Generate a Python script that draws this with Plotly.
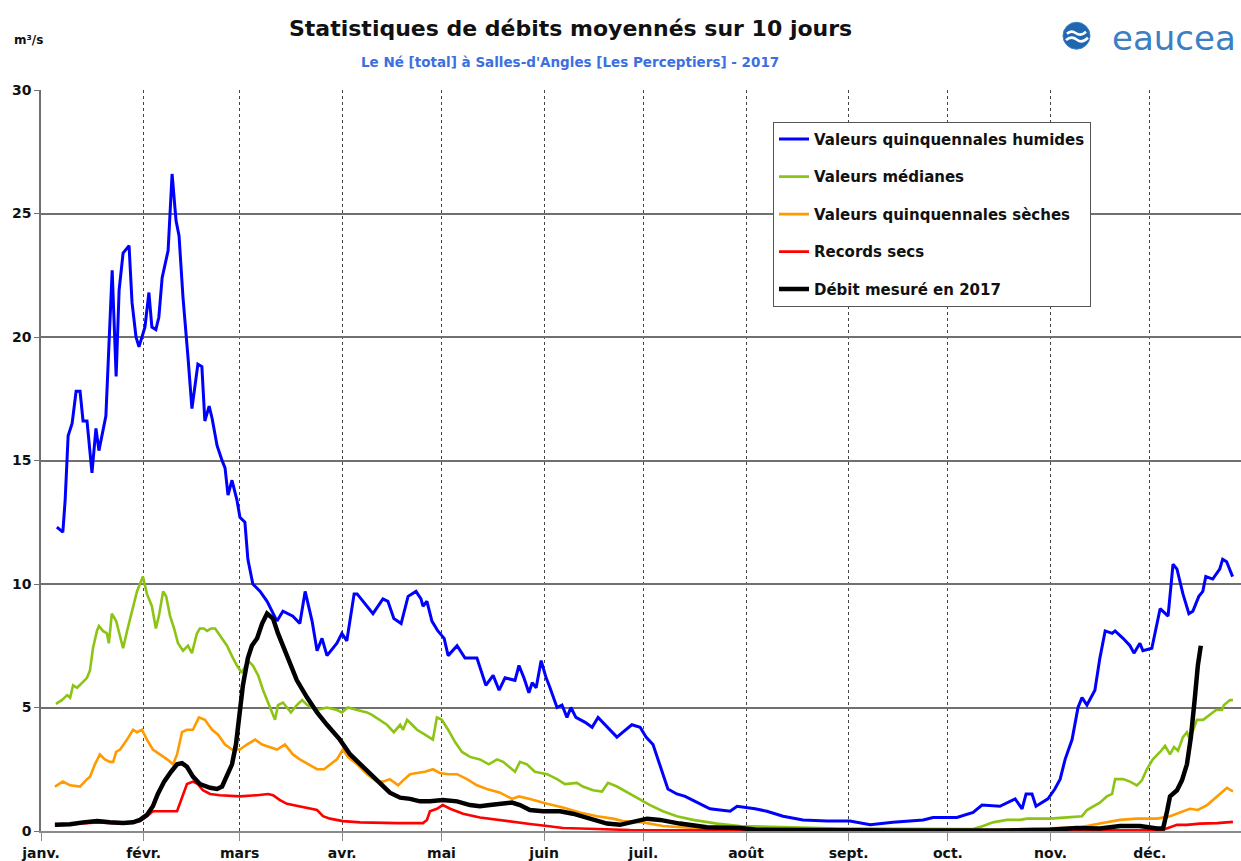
import plotly.graph_objects as go

# Month labels and first day of each month (day of year, 366-day calendar)
mois = ["janv.", "févr.", "mars", "avr.", "mai", "juin", "juil.", "août",
        "sept.", "oct.", "nov.", "déc."]
debut_mois = [0, 31, 60, 91, 121, 152, 182, 213, 244, 274, 305, 335]

# Valeurs quinquennales humides (m3/s)
jours_humides = [4.8, 6.6, 7.3, 8.2, 9.4, 10.6, 11.8, 12.7, 13.9, 15.4,
                 16.6, 17.5, 19.6, 21.5, 22.7, 23.6, 24.8, 26.6, 27.5, 28.7,
                 29.6, 31.4, 32.6, 33.5, 34.7, 35.6, 36.6, 38.4, 39.6, 40.8,
                 41.7, 42.9, 44.4, 45.6, 47.4, 48.6, 49.5, 50.8, 51.7, 53.2,
                 54.7, 55.6, 56.5, 57.7, 59.2, 60.1, 61.6, 62.5, 64.0, 66.2,
                 68.3, 70.1, 71.3, 73.1, 76.1, 78.2, 79.8, 81.9, 83.4, 84.9,
                 86.4, 89.4, 90.9, 92.4, 94.6, 95.5, 97.3, 100.3, 103.3, 104.8,
                 106.6, 108.8, 110.9, 113.3, 114.8, 115.4, 116.6, 118.1, 119.9, 121.8,
                 123.0, 125.7, 128.1, 131.7, 134.4, 136.6, 138.4, 140.2, 143.2, 144.4,
                 145.9, 147.4, 148.4, 149.6, 151.1, 152.6, 153.5, 155.9, 157.4, 158.9,
                 160.1, 161.6, 164.4, 166.5, 168.3, 171.0, 174.0, 175.8, 178.5, 181.0,
                 182.8, 184.9, 187.0, 189.4, 192.1, 194.6, 197.6, 202.1, 208.2, 210.3,
                 215.7, 219.3, 224.2, 230.2, 237.5, 244.4, 250.5, 257.4, 266.5, 269.5,
                 276.7, 281.6, 284.3, 289.7, 294.3, 296.4, 297.6, 299.4, 300.6, 304.2,
                 306.3, 307.9, 309.4, 311.5, 313.3, 314.5, 316.0, 318.4, 319.9, 321.5,
                 323.6, 324.5, 326.9, 329.0, 330.2, 332.0, 332.9, 335.6, 338.1, 340.5,
                 342.0, 343.2, 345.0, 346.8, 348.0, 349.8, 351.0, 351.9, 354.0, 356.1,
                 357.0, 358.2, 360.0]
debits_humides = [12.3, 12.1, 13.4, 16.0, 16.5, 17.8, 17.8, 16.6, 16.6, 14.5,
                  16.3, 15.4, 16.8, 22.7, 18.4, 21.9, 23.4, 23.7, 21.4, 20.0,
                  19.6, 20.4, 21.8, 20.4, 20.3, 20.8, 22.4, 23.5, 26.6, 24.7,
                  24.1, 21.6, 19.2, 17.1, 18.9, 18.8, 16.6, 17.2, 16.7, 15.6,
                  15.0, 14.7, 13.6, 14.2, 13.4, 12.7, 12.5, 11.0, 10.0, 9.7,
                  9.3, 8.8, 8.5, 8.9, 8.7, 8.4, 9.7, 8.5, 7.3, 7.8,
                  7.1, 7.6, 8.0, 7.7, 9.6, 9.6, 9.3, 8.8, 9.4, 9.3,
                  8.6, 8.4, 9.5, 9.7, 9.4, 9.1, 9.3, 8.5, 8.1, 7.8,
                  7.1, 7.5, 7.0, 7.0, 5.9, 6.3, 5.7, 6.2, 6.1, 6.7,
                  6.2, 5.6, 6.0, 5.8, 6.9, 6.2, 5.9, 5.0, 5.1, 4.6,
                  5.0, 4.6, 4.4, 4.2, 4.6, 4.2, 3.8, 4.0, 4.3, 4.2,
                  3.8, 3.5, 2.7, 1.7, 1.5, 1.4, 1.2, 0.9, 0.8, 1.0,
                  0.9, 0.8, 0.6, 0.45, 0.4, 0.4, 0.25, 0.35, 0.45, 0.55,
                  0.55, 0.75, 1.05, 1.0, 1.3, 0.9, 1.5, 1.5, 1.0, 1.3,
                  1.7, 2.1, 2.9, 3.7, 5.0, 5.4, 5.1, 5.7, 7.0, 8.1,
                  8.0, 8.1, 7.8, 7.5, 7.2, 7.6, 7.3, 7.4, 9.0, 8.7,
                  10.8, 10.6, 9.6, 8.8, 8.9, 9.5, 9.7, 10.3, 10.2, 10.6,
                  11.0, 10.9, 10.3]

# Valeurs médianes (m3/s)
jours_medianes = [4.5, 6.3, 7.9, 8.8, 9.7, 10.9, 12.4, 13.9, 14.8, 15.7,
                  16.9, 17.5, 18.7, 19.9, 20.5, 21.4, 22.7, 23.9, 24.8, 26.0,
                  27.5, 29.0, 30.8, 32.0, 33.5, 34.7, 35.6, 36.9, 37.8, 39.0,
                  40.2, 41.4, 42.9, 44.4, 45.6, 47.1, 48.0, 49.2, 50.2, 51.4,
                  52.6, 54.1, 56.2, 58.0, 59.2, 60.7, 62.5, 64.0, 65.6, 67.1,
                  68.6, 70.7, 71.6, 73.1, 74.3, 75.5, 77.3, 78.9, 80.4, 83.4,
                  86.4, 89.4, 90.9, 92.7, 95.5, 98.5, 100.0, 102.4, 104.5, 106.6,
                  108.5, 109.4, 110.6, 112.1, 113.6, 116.0, 118.4, 119.6, 121.1, 123.0,
                  125.1, 127.2, 129.6, 132.6, 135.3, 137.8, 139.6, 143.2, 144.7, 146.8,
                  149.2, 152.9, 155.9, 158.3, 161.9, 163.7, 166.8, 169.5, 171.3, 174.0,
                  177.9, 181.6, 184.0, 187.9, 192.1, 197.0, 204.2, 211.2, 221.1, 231.4,
                  241.4, 251.4, 271.6, 281.6, 284.6, 287.6, 291.8, 295.8, 297.9, 301.8,
                  304.8, 310.0, 314.5, 316.0, 317.8, 319.9, 322.0, 323.6, 324.5, 326.9,
                  329.0, 331.1, 332.6, 334.1, 335.9, 338.1, 339.6, 341.1, 342.3, 343.5,
                  345.0, 346.2, 347.1, 349.2, 351.1, 353.2, 355.0, 356.8, 357.4, 359.2,
                  360.1]
debits_medianes = [5.15, 5.3, 5.5, 5.4, 5.9, 5.8, 6.0, 6.2, 6.5, 7.4,
                   8.1, 8.3, 8.1, 8.0, 7.6, 8.8, 8.5, 7.9, 7.4, 8.1,
                   8.9, 9.7, 10.3, 9.6, 9.1, 8.2, 8.7, 9.7, 9.5, 8.7,
                   8.2, 7.6, 7.3, 7.5, 7.2, 8.0, 8.2, 8.2, 8.1, 8.2,
                   8.2, 7.9, 7.5, 7.0, 6.7, 6.4, 6.9, 6.7, 6.3, 5.7,
                   5.2, 4.5, 5.1, 5.2, 5.0, 4.8, 5.1, 5.3, 5.1, 4.9,
                   5.0, 4.9, 4.8, 5.0, 4.9, 4.8, 4.7, 4.5, 4.3, 4.0,
                   4.3, 4.1, 4.5, 4.3, 4.1, 3.9, 3.7, 4.6, 4.5, 4.1,
                   3.6, 3.2, 3.0, 2.9, 2.7, 2.9, 2.8, 2.4, 2.8, 2.7,
                   2.4, 2.3, 2.1, 1.9, 1.95, 1.8, 1.65, 1.6, 1.95, 1.8,
                   1.5, 1.25, 1.05, 0.8, 0.6, 0.45, 0.3, 0.2, 0.17, 0.13,
                   0.1, 0.1, 0.08, 0.08, 0.2, 0.35, 0.45, 0.45, 0.5, 0.5,
                   0.5, 0.55, 0.6, 0.85, 1.0, 1.15, 1.4, 1.5, 2.1, 2.1,
                   2.0, 1.85, 2.05, 2.5, 2.9, 3.2, 3.45, 3.1, 3.4, 3.25,
                   3.8, 4.0, 3.7, 4.5, 4.5, 4.7, 4.9, 4.9, 5.1, 5.3,
                   5.3]

# Valeurs quinquennales sèches (m3/s)
jours_seches = [4.2, 6.6, 8.8, 11.8, 13.9, 14.8, 16.3, 17.8, 19.3, 20.8,
                21.8, 22.7, 23.9, 26.0, 27.8, 29.0, 30.5, 32.0, 33.8, 36.0,
                38.1, 39.9, 41.1, 42.6, 44.1, 45.9, 47.7, 49.5, 51.7, 53.5,
                55.6, 57.7, 60.1, 62.2, 64.7, 66.8, 69.2, 71.3, 73.7, 76.1,
                78.2, 80.7, 83.4, 85.5, 87.3, 89.4, 91.2, 92.7, 95.5, 98.5,
                101.5, 103.3, 105.4, 107.9, 109.4, 111.5, 113.6, 116.0, 118.4, 120.5,
                123.0, 125.7, 128.7, 131.7, 134.7, 138.7, 142.3, 144.4, 147.7, 152.9,
                157.7, 162.8, 168.0, 172.8, 175.8, 181.9, 187.9, 193.0, 199.1, 211.2,
                229.3, 259.5, 289.7, 313.9, 319.9, 326.0, 331.1, 337.2, 341.1, 344.1,
                347.1, 349.5, 352.3, 355.3, 358.3, 360.1]
debits_seches = [1.8, 2.0, 1.85, 1.8, 2.1, 2.2, 2.7, 3.1, 2.9, 2.8,
                 2.8, 3.2, 3.3, 3.7, 4.1, 4.0, 4.1, 3.7, 3.3, 3.1,
                 2.9, 2.7, 3.1, 4.0, 4.1, 4.1, 4.6, 4.5, 4.1, 3.9,
                 3.5, 3.3, 3.3, 3.5, 3.7, 3.5, 3.4, 3.3, 3.5, 3.1,
                 2.9, 2.7, 2.5, 2.5, 2.7, 2.9, 3.3, 3.0, 2.7, 2.3,
                 2.0, 2.0, 2.1, 1.85, 2.05, 2.3, 2.35, 2.4, 2.5, 2.35,
                 2.3, 2.3, 2.1, 1.85, 1.7, 1.55, 1.3, 1.4, 1.3, 1.1,
                 0.95, 0.75, 0.6, 0.5, 0.4, 0.35, 0.2, 0.15, 0.1, 0.06,
                 0.04, 0.03, 0.05, 0.15, 0.3, 0.45, 0.5, 0.5, 0.6, 0.75,
                 0.9, 0.85, 1.05, 1.4, 1.75, 1.6]

# Records secs (m3/s)
jours_records = [4.2, 12.7, 16.9, 24.8, 29.9, 32.0, 33.8, 41.1, 42.6, 44.1,
                 45.9, 47.4, 48.9, 51.1, 54.1, 60.1, 65.3, 68.6, 70.1, 72.2,
                 74.3, 76.1, 80.4, 83.4, 85.2, 87.3, 91.2, 96.4, 107.6, 115.4,
                 116.6, 117.5, 119.6, 121.4, 123.6, 127.5, 132.6, 137.8, 142.6, 147.7,
                 152.9, 157.7, 168.0, 177.9, 193.0, 250.0, 300.0, 330.0, 339.0, 341.1,
                 343.2, 346.2, 350.1, 355.3, 360.1]
debits_records = [0.22, 0.3, 0.35, 0.3, 0.4, 0.6, 0.8, 0.8, 1.35, 1.9,
                  2.0, 1.9, 1.65, 1.5, 1.45, 1.4, 1.45, 1.5, 1.45, 1.25,
                  1.1, 1.05, 0.95, 0.85, 0.6, 0.5, 0.4, 0.35, 0.32, 0.32,
                  0.45, 0.8, 0.9, 1.05, 0.9, 0.7, 0.55, 0.45, 0.35, 0.28,
                  0.2, 0.12, 0.08, 0.04, 0.03, 0.02, 0.02, 0.03, 0.05, 0.15,
                  0.25, 0.25, 0.3, 0.32, 0.37]

# Débit mesuré en 2017 (m3/s)
jours_2017 = [4.2, 8.8, 12.7, 16.9, 20.8, 24.8, 27.8, 29.9, 32.0, 33.8,
              35.3, 37.2, 39.3, 41.1, 42.6, 44.1, 45.9, 48.0, 51.1, 53.2,
              54.7, 56.2, 57.7, 58.9, 59.8, 61.0, 62.5, 63.7, 65.3, 66.8,
              68.3, 70.1, 71.6, 74.3, 77.3, 80.4, 83.4, 86.4, 90.3, 93.4,
              96.4, 99.4, 102.4, 105.4, 108.5, 111.5, 114.5, 117.5, 121.4, 125.7,
              129.6, 132.6, 135.6, 138.7, 142.3, 144.7, 147.7, 151.7, 156.8, 160.7,
              165.9, 171.0, 174.9, 177.9, 183.1, 187.0, 193.0, 201.2, 211.2, 216.3,
              229.3, 259.5, 289.7, 304.8, 313.0, 319.9, 326.0, 332.0, 337.2, 339.0,
              340.2, 341.1, 343.2, 344.7, 346.2, 347.4, 348.6, 349.5, 350.4]
debits_2017 = [0.25, 0.27, 0.35, 0.4, 0.35, 0.32, 0.35, 0.45, 0.65, 1.0,
               1.5, 2.0, 2.4, 2.7, 2.75, 2.6, 2.2, 1.9, 1.75, 1.7,
               1.8, 2.2, 2.7, 3.5, 4.6, 5.9, 7.0, 7.5, 7.8, 8.4,
               8.8, 8.6, 8.0, 7.1, 6.1, 5.4, 4.8, 4.3, 3.7, 3.1,
               2.7, 2.3, 1.9, 1.55, 1.35, 1.3, 1.2, 1.2, 1.25, 1.2,
               1.05, 1.0, 1.05, 1.1, 1.15, 1.05, 0.85, 0.8, 0.8, 0.7,
               0.5, 0.3, 0.25, 0.35, 0.5, 0.45, 0.3, 0.15, 0.12, 0.05,
               0.03, 0.02, 0.02, 0.05, 0.12, 0.1, 0.2, 0.2, 0.1, 0.1,
               0.8, 1.4, 1.65, 2.05, 2.7, 3.8, 5.4, 6.7, 7.5]

series = [
    ("Valeurs quinquennales humides", jours_humides, debits_humides, "#0000ff", 3),
    ("Valeurs médianes", jours_medianes, debits_medianes, "#8cc414", 2.6),
    ("Valeurs quinquennales sèches", jours_seches, debits_seches, "#ff9a00", 2.6),
    ("Records secs", jours_records, debits_records, "#ff0000", 2.6),
    ("Débit mesuré en 2017", jours_2017, debits_2017, "#000000", 4.5),
]

FONT = "DejaVu Sans"

fig = go.Figure()
for i, (nom, jours, debits, couleur, epaisseur) in enumerate(series):
    fig.add_trace(go.Scatter(
        x=jours, y=debits, mode="lines", name=nom, legendgroup=f"g{i}",
        line=dict(color=couleur, width=epaisseur), hoverinfo="skip",
    ))

# Plot area spans 41..1241 px horizontally and 90..834 px vertically
L, T, W, H = 41, 90, 1200, 744


def paper(px, py):
    return (px - L) / W, (T + H - py) / H


shapes = []
# eaucea logo: blue disc with two white waves
cx0, cy0 = paper(1063, 22)
cx1, cy1 = paper(1090, 49)
shapes.append(dict(type="circle", xref="paper", yref="paper",
                   x0=cx0, y0=cy1, x1=cx1, y1=cy0,
                   fillcolor="#2067b0", line=dict(color="#3b82c4", width=1)))


def wave(points):
    p = [paper(*pt) for pt in points]
    return (f"M {p[0][0]},{p[0][1]} Q {p[1][0]},{p[1][1]} {p[2][0]},{p[2][1]} "
            f"Q {p[3][0]},{p[3][1]} {p[4][0]},{p[4][1]}")


for pts in ([(1067, 33.5), (1071, 29.5), (1076, 33), (1081, 36.5), (1086, 31.5)],
            [(1066, 40), (1071, 35), (1077, 39.5), (1082, 43.5), (1088, 37.5)]):
    shapes.append(dict(type="path", xref="paper", yref="paper", path=wave(pts),
                       line=dict(color="white", width=2.6)))

tx, ty = paper(570, 28)
sx, sy = paper(570, 62)
ux, uy = paper(28, 40)
ex, ey = paper(1110, 38)

annotations = [
    dict(text="Statistiques de débits moyennés sur 10 jours", x=tx, y=ty,
         xref="paper", yref="paper", showarrow=False, xanchor="center", yanchor="middle",
         font=dict(family=FONT, size=22, color="#111111", weight="bold")),
    dict(text="Le Né [total] à Salles-d'Angles [Les Perceptiers] - 2017", x=sx, y=sy,
         xref="paper", yref="paper", showarrow=False, xanchor="center", yanchor="middle",
         font=dict(family=FONT, size=13.5, color="#3d6fe0", weight="bold")),
    dict(text="m³/s", x=ux, y=uy, xref="paper", yref="paper", showarrow=False,
         xanchor="center", yanchor="middle",
         font=dict(family=FONT, size=12, color="#111111", weight="bold")),
    dict(text="eaucea", x=ex, y=ey, xref="paper", yref="paper", showarrow=False,
         xanchor="left", yanchor="middle",
         font=dict(family=FONT, size=34, color="#3a80c3")),
]

lx, ly = paper(773, 122)

fig.update_layout(
    width=1241, height=861,
    margin=dict(l=L, r=1241 - L - W, t=T, b=861 - T - H, pad=0),
    paper_bgcolor="white", plot_bgcolor="white",
    font=dict(family=FONT, color="#111111"),
    showlegend=True,
    legend=dict(x=lx, y=ly, xanchor="left", yanchor="top",
                bgcolor="white", bordercolor="#555555", borderwidth=1,
                traceorder="grouped", tracegroupgap=15, itemwidth=30,
                font=dict(family=FONT, size=15, color="#111111", weight="bold")),
    shapes=shapes,
    annotations=annotations,
    xaxis=dict(range=[0, W / 3.31], tickmode="array", tickvals=debut_mois, ticktext=mois,
               showgrid=True, gridcolor="#444444", gridwidth=1, griddash="dot",
               showline=True, linecolor="#8a8a8a", linewidth=2,
               ticks="outside", ticklen=8, tickcolor="#8a8a8a", zeroline=False,
               tickfont=dict(family=FONT, size=14, color="#111111", weight="bold")),
    yaxis=dict(range=[0, 30], tickmode="linear", tick0=0, dtick=5,
               showgrid=True, gridcolor="#707070", gridwidth=1.6,
               showline=True, linecolor="#707070", linewidth=1.6,
               ticks="outside", ticklen=5, tickcolor="#707070", zeroline=False,
               tickfont=dict(family=FONT, size=14, color="#111111", weight="bold")),
)

fig.write_html("out.html")
